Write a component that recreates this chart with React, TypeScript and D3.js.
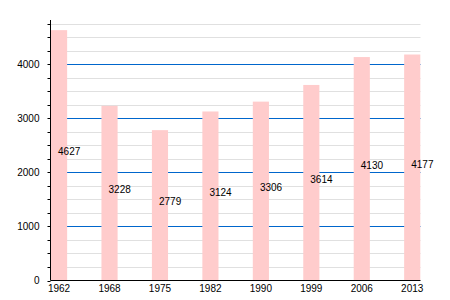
import React from "react";
import * as d3 from "d3";

const years = ["1962", "1968", "1975", "1982", "1990", "1999", "2006", "2013"];
const population = [4627, 3228, 2779, 3124, 3306, 3614, 4130, 4177];
const majorTicks = [0, 1000, 2000, 3000, 4000];

export default function App() {
  const W = 450, H = 300;
  const x0 = 50.5, x1 = 420.5, yBase = 280.5, yTop = 20;
  const y = d3.scaleLinear().domain([0, 4750]).range([yBase, 23.5]);
  const x = d3.scaleBand<string>().domain(years).range([51, 420.3]).paddingInner(0.68).paddingOuter(0);
  const minor = d3.range(250, 4751, 250).filter((v) => v % 1000 !== 0);
  const font = "'Liberation Sans', Arial, sans-serif";
  return (
    <svg width={W} height={H} style={{ position: "absolute", left: 0, top: 0 }} fontFamily={font} fontSize={10}>
      <rect width={W} height={H} fill="#fff" />
      {minor.map((v) => (
        <line key={"g" + v} x1={x0} x2={x1} y1={Math.round(y(v)) + 0.5} y2={Math.round(y(v)) + 0.5} stroke="#e0e0e0" strokeWidth={1} />
      ))}
      {majorTicks.filter((v) => v > 0).map((v) => (
        <line key={"m" + v} x1={x0} x2={x1} y1={Math.round(y(v)) + 0.5} y2={Math.round(y(v)) + 0.5} stroke="#0066cc" strokeWidth={1} />
      ))}
      {years.map((yr, i) => (
        <rect key={"b" + yr} x={x(yr)} y={y(population[i])} width={x.bandwidth()} height={yBase - y(population[i])} fill="#ffcccc" />
      ))}
      {years.map((yr, i) => (
        <text key={"v" + yr} x={(x(yr) as number) + x.bandwidth() / 2 - 1} y={(yBase + y(population[i])) / 2} fill="#000">
          {population[i]}
        </text>
      ))}
      {d3.range(0, 4751, 250).map((v) => (
        <line key={"t" + v} x1={x0 - 3} x2={x0} y1={Math.round(y(v)) + 0.5} y2={Math.round(y(v)) + 0.5} stroke="#000" />
      ))}
      <line x1={x0} x2={x0} y1={yTop} y2={yBase} stroke="#000" />
      <line x1={x0} x2={x1} y1={yBase} y2={yBase} stroke="#000" />
      {majorTicks.map((v) => (
        <text key={"l" + v} x={39.5} y={y(v)} dy="0.35em" textAnchor="end" fill="#000">{v}</text>
      ))}
      {years.map((yr) => (
        <text key={"x" + yr} x={(x(yr) as number) + x.bandwidth() / 2} y={292} textAnchor="middle" fill="#000">{yr}</text>
      ))}
    </svg>
  );
}
